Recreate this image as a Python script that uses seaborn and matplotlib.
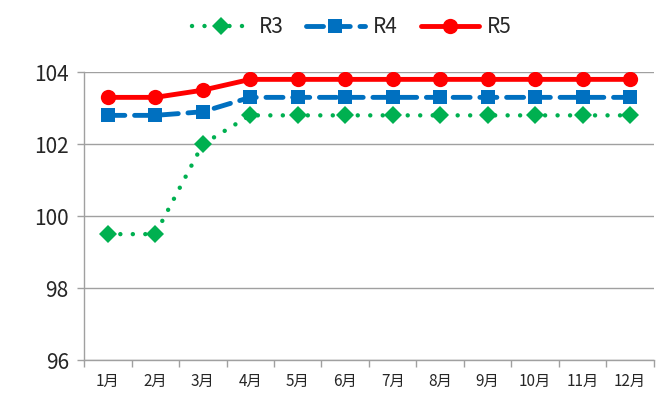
import numpy as np
import pandas as pd
import matplotlib
matplotlib.use('Agg')
import matplotlib.pyplot as plt
import seaborn as sns
from matplotlib.ticker import FixedLocator

months = ['1月', '2月', '3月', '4月', '5月', '6月', '7月', '8月', '9月', '10月', '11月', '12月']
r3 = [99.5, 99.5, 102.0, 102.8, 102.8, 102.8, 102.8, 102.8, 102.8, 102.8, 102.8, 102.8]
r4 = [102.8, 102.8, 102.9, 103.3, 103.3, 103.3, 103.3, 103.3, 103.3, 103.3, 103.3, 103.3]
r5 = [103.3, 103.3, 103.5, 103.8, 103.8, 103.8, 103.8, 103.8, 103.8, 103.8, 103.8, 103.8]
yticks = [96, 98, 100, 102, 104]

sns.set_theme(style="white")
plt.rcParams['font.family'] = ['Noto Sans CJK SC', 'DejaVu Sans']

fig = plt.figure(figsize=(6.57, 4.01), dpi=100)
ax = fig.add_axes([0.128, 0.102, 0.867, 0.718])

pos = np.arange(len(months))
styles = [
    ('R3', r3, '#00B050', 'D', (0, (0.01, 2.8)), 3.2, 9, 'round'),
    ('R4', r4, '#0070C0', 's', (0, (3.5, 2.0)), 3.5, 10, 'round'),
    ('R5', r5, '#FF0000', 'o', '-', 3.5, 11, 'round'),
]
for name, vals, color, marker, ls, lw, ms, cap in styles:
    sns.lineplot(x=pos, y=vals, ax=ax, color=color, marker=marker, linestyle=ls,
                 linewidth=lw, markersize=ms, markeredgewidth=0, label=name,
                 sort=False, dash_capstyle=cap, solid_capstyle='round')

ax.set_xlim(-0.5, len(months) - 0.5)
ax.set_ylim(96, 104)
ax.set_yticks(yticks)
ax.set_yticklabels([str(v) for v in yticks], fontsize=15)
ax.set_xticks(pos)
ax.set_xticklabels(months, fontsize=11)
ax.xaxis.set_minor_locator(FixedLocator(np.arange(-0.5, len(months), 1.0)))
ax.tick_params(axis='x', which='major', length=0, pad=9)
ax.tick_params(axis='x', which='minor', length=5, color='#a0a0a0', width=1, bottom=True)
ax.tick_params(axis='y', which='major', length=5, color='#a0a0a0', width=1, left=True, pad=6)
ax.grid(axis='y', color='#a0a0a0', linewidth=1)
ax.set_axisbelow(True)
for s in ['top', 'right']:
    ax.spines[s].set_visible(False)
for s in ['left', 'bottom']:
    ax.spines[s].set_color('#a0a0a0')
    ax.spines[s].set_linewidth(1)

ax.legend(loc='upper center', bbox_to_anchor=(0.47, 1.26), ncol=3, frameon=False,
          fontsize=15, handlelength=2.8, columnspacing=1.1, handletextpad=0.4)

fig.savefig('out.png', dpi=100)
